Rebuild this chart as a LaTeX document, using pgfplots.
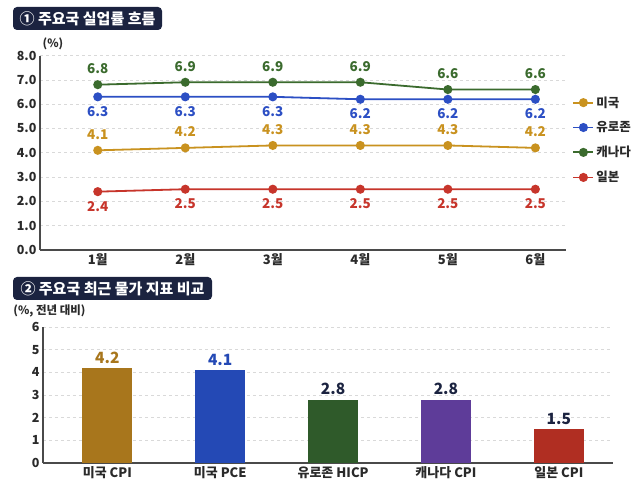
\documentclass[border=0pt]{standalone}
\usepackage{fontspec}
\setmainfont{Noto Sans CJK KR}
\usepackage{pgfplots}
\pgfplotsset{compat=1.18}

\definecolor{navy}{HTML}{1B2340}
\definecolor{axisgray}{HTML}{4A4A4A}
\definecolor{gridgray}{HTML}{D9D9D9}
\definecolor{labelgray}{HTML}{2A2A2A}
\definecolor{usgold}{HTML}{C9921F}
\definecolor{eublue}{HTML}{2C4FC4}
\definecolor{cagreen}{HTML}{3B6B2E}
\definecolor{jpred}{HTML}{C7352B}
\definecolor{bargold}{HTML}{A8761C}
\definecolor{barblue}{HTML}{2449B5}
\definecolor{bargreen}{HTML}{2F5A2A}
\definecolor{barpurple}{HTML}{5E3C99}
\definecolor{barred}{HTML}{B02E22}

\newcommand{\fs}[1]{\fontsize{#1}{#1}\selectfont}

\pgfplotsset{
  panel/.style={
    scale only axis, anchor=south west, clip=false,
    axis lines*=left,
    axis line style={draw=axisgray, line width=1.3pt},
    major tick length=0pt,
    ymajorgrids,
    grid style={dashed, draw=gridgray, line width=0.6pt},
    tick label style={font=\bfseries\fs{12.5}, text=labelgray},
    /pgf/number format/assume math mode=true,
  },
  ser/.style={color=#1, line width=1.8pt, mark=*, mark size=3.6pt,
    mark options={solid, fill=#1}},
  lab/.style={nodes near coords={\pgfmathprintnumber[fixed,fixed zerofill,precision=1]{\pgfplotspointmeta}},
    every node near coord/.append style={font=\bfseries\fs{13.5}, text=#1, anchor=center}},
  up/.style={every node near coord/.append style={yshift=16pt}},
  down/.style={every node near coord/.append style={yshift=-14.5pt}},
  barlab/.style={nodes near coords={\pgfmathprintnumber[fixed,fixed zerofill,precision=1]{\pgfplotspointmeta}},
    every node near coord/.append style={font=\bfseries\fs{15.5}, text=#1, anchor=south, yshift=1pt}},
}

\begin{document}
\begin{tikzpicture}[x=1pt, y=1pt]
\useasboundingbox[fill=white] (0,0) rectangle (640,485);

% panel 1 heading
\node[fill=navy, rounded corners=4pt, minimum width=149pt, minimum height=23pt,
      text=white, font=\bfseries\fs{15}, inner sep=0pt] at (87.5,466.5) {① 주요국 실업률 흐름};
\node[font=\bfseries\fs{11.5}, text=labelgray] at (53,441) {(\%)};

% unemployment rates
\begin{axis}[panel,
  at={(40pt,235pt)}, width=526pt, height=194.5pt,
  xmin=-0.66, xmax=5.35, ymin=0, ymax=8,
  xtick={0,...,5}, xticklabels={1월,2월,3월,4월,5월,6월},
  ytick={0,1,...,8},
  yticklabel={\pgfmathprintnumber[fixed,fixed zerofill,precision=1]{\tick}},
  xticklabel style={font=\bfseries\fs{13}},
  legend style={at={(1.012,0.8)}, anchor=north west, draw=none, fill=none,
    font=\bfseries\fs{12.5}, text=labelgray, row sep=9pt, inner sep=0pt},
  legend cell align=left,
  legend image code/.code={\draw[mark repeat=2, mark phase=2, #1]
    plot coordinates {(0pt,0pt) (10pt,0pt) (20pt,0pt)};},
]
\addplot[ser=usgold, lab=usgold, up] coordinates {(0,4.1) (1,4.2) (2,4.3) (3,4.3) (4,4.3) (5,4.2)};
\addlegendentry{미국}
\addplot[ser=eublue, lab=eublue, down] coordinates {(0,6.3) (1,6.3) (2,6.3) (3,6.2) (4,6.2) (5,6.2)};
\addlegendentry{유로존}
\addplot[ser=cagreen, lab=cagreen, up] coordinates {(0,6.8) (1,6.9) (2,6.9) (3,6.9) (4,6.6) (5,6.6)};
\addlegendentry{캐나다}
\addplot[ser=jpred, lab=jpred, down] coordinates {(0,2.4) (1,2.5) (2,2.5) (3,2.5) (4,2.5) (5,2.5)};
\addlegendentry{일본}
\end{axis}

% panel 2 heading
\node[fill=navy, rounded corners=4pt, minimum width=199pt, minimum height=23pt,
      text=white, font=\bfseries\fs{15}, inner sep=0pt] at (112.5,196.5) {② 주요국 최근 물가 지표 비교};
\node[font=\bfseries\fs{11.5}, text=labelgray] at (49.5,174) {(\%, 전년 대비)};

% inflation indicators
\begin{axis}[panel,
  at={(43pt,22pt)}, width=570pt, height=136pt,
  xmin=-0.57, xmax=4.48, ymin=0, ymax=6,
  xtick={0,...,4}, xticklabels={미국 CPI,미국 PCE,유로존 HICP,캐나다 CPI,일본 CPI},
  xticklabel style={font=\bfseries\fs{13}},
  ytick={0,1,...,6},
  ybar, bar width=50pt,
]
\addplot[fill=bargold, draw=none, bar shift=0pt, barlab=bargold] coordinates {(0,4.2)};
\addplot[fill=barblue, draw=none, bar shift=0pt, barlab=barblue] coordinates {(1,4.1)};
\addplot[fill=bargreen, draw=none, bar shift=0pt, barlab=navy] coordinates {(2,2.8)};
\addplot[fill=barpurple, draw=none, bar shift=0pt, barlab=navy] coordinates {(3,2.8)};
\addplot[fill=barred, draw=none, bar shift=0pt, barlab=navy] coordinates {(4,1.5)};
\end{axis}
\end{tikzpicture}
\end{document}
